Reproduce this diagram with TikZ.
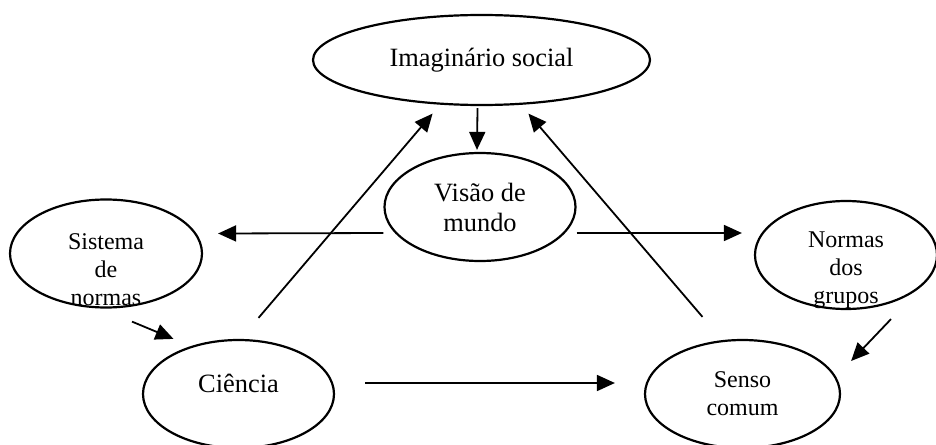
\documentclass[tikz,border=0pt]{standalone}
\usepackage{fontspec}
\setmainfont{Liberation Serif}
\usetikzlibrary{shapes.geometric,arrows.meta}

\begin{document}
\begin{tikzpicture}[x=0.5pt, y=-0.5pt,
                    idea/.style={draw, ellipse, line width=1.1pt, inner sep=0,
                                 minimum width=96pt, minimum height=54pt},
                    txt/.style={align=center, font=\fontsize{12}{14}\selectfont},
                    bigtxt/.style={align=center, font=\fontsize{13.2}{15}\selectfont},
                    arr/.style={-{Triangle[length=9pt,width=8pt]}, line width=0.9pt}]
                \clip (0,0) rectangle (936,444);

                \node (imag) [idea, bigtxt, minimum width=168.5pt, minimum height=45pt]
                    at (481.5,60) {Imaginário social};
                \node (vis) [idea, bigtxt, minimum width=95.5pt] at (480,207) {Visão de\\mundo};

                \node (sis) [idea] at (106,253.5) {};
                \node (sis-t) [txt] at (106,270) {Sistema\\de\\normas};
                \node (nor) [idea, minimum width=91pt] at (846,255) {};
                \node (nor-t) [txt] at (846,270) {Normas\\dos\\grupos};

                \node (cie) [idea, minimum width=95.5pt] at (238.5,394) {};
                \node (cie-t) [bigtxt] at (238.5,383) {Ciência};
                \node (sen) [idea, txt, minimum width=97.5pt] at (742.5,394) {Senso\\comum};

                \draw [arr] ([shift={(-4,2)}]imag.south) -- ([shift={(-3,-2)}]vis.north);
                \draw [arr] ([shift={(0,26)}]vis.west) -- ([shift={(15,-20)}]sis.east);
                \draw [arr] ([shift={(0,26)}]vis.east) -- ([shift={(-12,-22)}]nor.west);

                \draw [arr] ([shift={(20,-21)}]cie.north) -- ([shift={(71,21)}]imag.south west);
                \draw [arr] ([shift={(-40,-22)}]sen.north) -- ([shift={(-73,21)}]imag.south east);

                \draw [arr] ([shift={(26,13)}]sis.south) -- ([shift={(-65,0)}]cie.north);
                \draw [arr] ([shift={(45,9)}]nor.south) -- ([shift={(10,-33)}]sen.east);
                \draw [arr] ([shift={(30,-11)}]cie.east) -- ([shift={(-29,-11)}]sen.west);
            \end{tikzpicture}
\end{document}
